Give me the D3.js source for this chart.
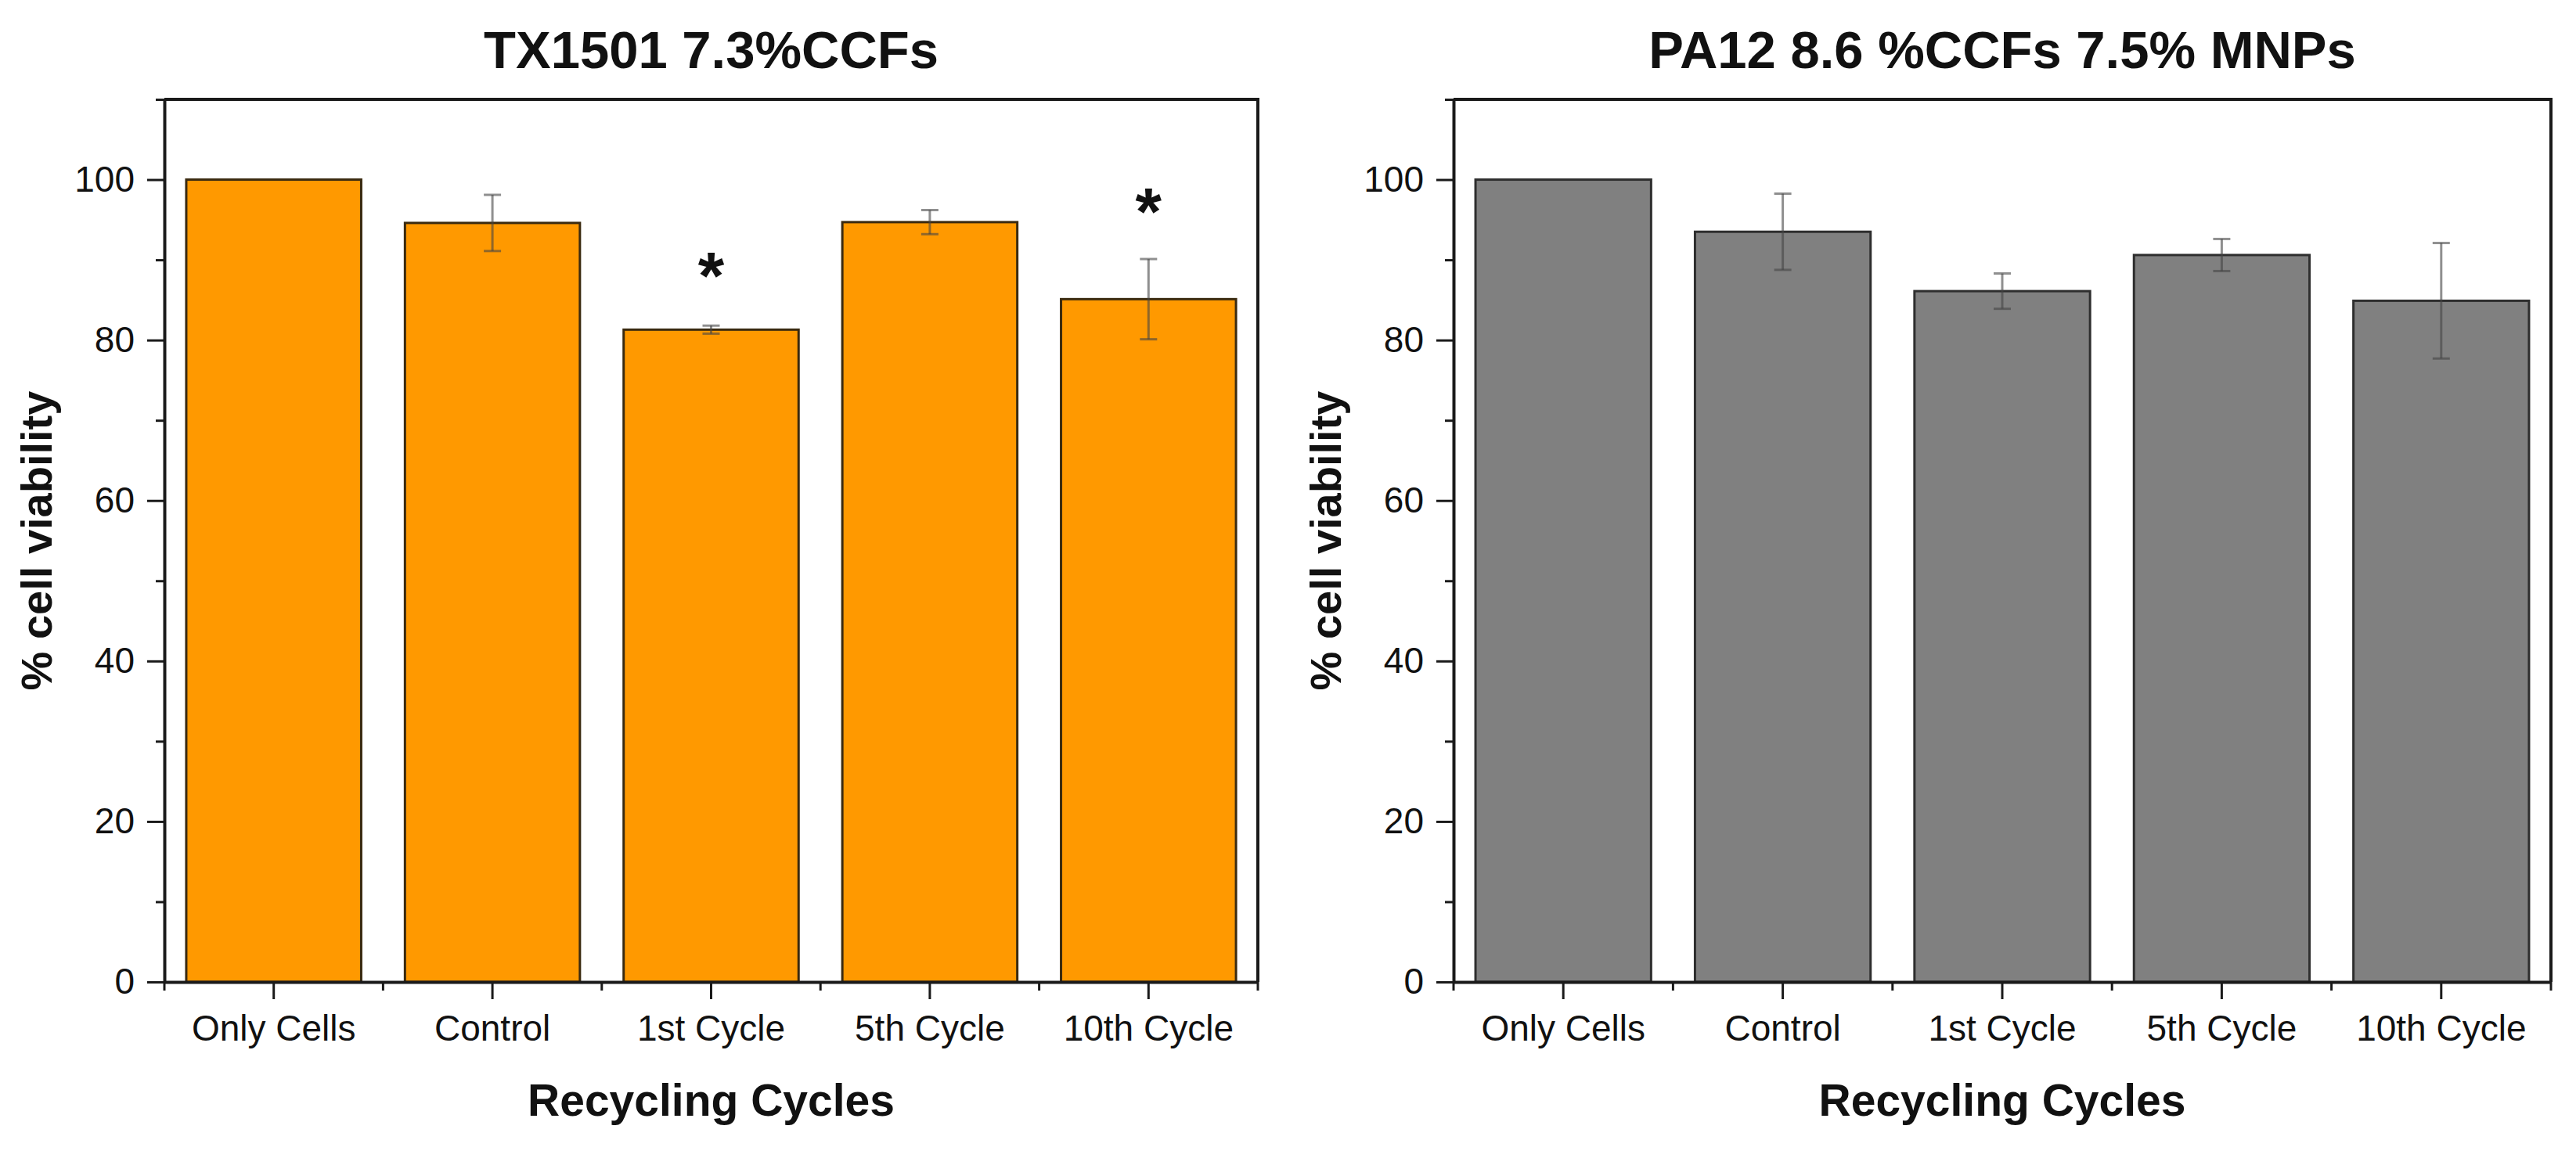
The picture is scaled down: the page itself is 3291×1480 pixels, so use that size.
<!DOCTYPE html>
<html>
<head>
<meta charset="utf-8">
<script src="https://cdn.jsdelivr.net/npm/d3@7"></script>
<style>
  body { margin: 0; background: #fff; }
  text { font-family: "Liberation Sans", Arial, sans-serif; fill: #111; }
</style>
</head>
<body>
<div id="chart"></div>
<script>
// data
const categories = ["Only Cells", "Control", "1st Cycle", "5th Cycle", "10th Cycle"];

const txMeans = [100, 94.6, 81.3, 94.7, 85.1];
const txErrors = [0, 3.5, 0.5, 1.5, 5.0];
const txStars = [null, null, 90, null, 98];

const paMeans = [100, 93.5, 86.1, 90.6, 84.9];
const paErrors = [0, 4.75, 2.2, 2.0, 7.2];
const paStars = [null, null, null, null, null];

const yTicks = [0, 20, 40, 60, 80, 100];
const yMinorTicks = [10, 30, 50, 70, 90, 110];

const width = 3291, height = 1480;
const plotTop = 127, plotBottom = 1255;

const svg = d3.select("#chart").append("svg")
    .attr("width", width)
    .attr("height", height);

svg.append("rect").attr("width", width).attr("height", height).attr("fill", "#fff");

function drawPanel(cfg) {
    const g = svg.append("g");

    const x = d3.scaleBand()
        .domain(categories)
        .range([cfg.left, cfg.right])
        .paddingInner(0.2)
        .paddingOuter(0.1);

    const y = d3.scaleLinear()
        .domain([0, 110])
        .range([plotBottom, plotTop]);

    const rows = categories.map((c, i) => ({
        cat: c, mean: cfg.means[i], err: cfg.errors[i], star: cfg.stars[i]
    }));

    // bars
    g.selectAll(".bar")
        .data(rows)
        .enter().append("rect")
        .attr("class", "bar")
        .attr("x", d => x(d.cat))
        .attr("y", d => y(d.mean))
        .attr("width", x.bandwidth())
        .attr("height", d => y(0) - y(d.mean))
        .attr("fill", cfg.color)
        .attr("stroke", cfg.edge)
        .attr("stroke-width", 3);

    // error bars
    const cx = d => x(d.cat) + x.bandwidth() / 2;
    const eb = g.selectAll(".err")
        .data(rows.filter(d => d.err > 0))
        .enter().append("g")
        .attr("class", "err")
        .attr("stroke", "#444")
        .attr("stroke-opacity", 0.6)
        .attr("stroke-width", 3);

    eb.append("line")
        .attr("x1", cx).attr("x2", cx)
        .attr("y1", d => y(d.mean - d.err))
        .attr("y2", d => y(d.mean + d.err));
    eb.append("line")
        .attr("x1", d => cx(d) - 11).attr("x2", d => cx(d) + 11)
        .attr("y1", d => y(d.mean + d.err))
        .attr("y2", d => y(d.mean + d.err));
    eb.append("line")
        .attr("x1", d => cx(d) - 11).attr("x2", d => cx(d) + 11)
        .attr("y1", d => y(d.mean - d.err))
        .attr("y2", d => y(d.mean - d.err));

    // significance marks
    g.selectAll(".star")
        .data(rows.filter(d => d.star != null))
        .enter().append("text")
        .attr("class", "star")
        .attr("x", cx)
        .attr("y", d => y(d.star) + 50)
        .attr("text-anchor", "middle")
        .attr("font-size", 86)
        .attr("font-weight", "bold")
        .text("*");

    // frame (top & right)
    g.append("path")
        .attr("d", `M${cfg.left},${plotTop}H${cfg.right}V${plotBottom}`)
        .attr("fill", "none")
        .attr("stroke", "#1a1a1a")
        .attr("stroke-width", 4);

    // y axis
    const yAxis = g.append("g")
        .attr("transform", `translate(${cfg.left},0)`)
        .call(d3.axisLeft(y).tickValues(yTicks).tickSize(22).tickPadding(16).tickSizeOuter(0));
    const yMinor = g.append("g")
        .attr("transform", `translate(${cfg.left},0)`)
        .call(d3.axisLeft(y).tickValues(yMinorTicks).tickSize(11).tickFormat(""));
    yMinor.select(".domain").remove();

    // x axis
    const xAxis = g.append("g")
        .attr("transform", `translate(0,${plotBottom})`)
        .call(d3.axisBottom(x).tickSize(22).tickPadding(20).tickSizeOuter(0));
    const minorX = d3.range(categories.length + 1).map(i => cfg.left + i * x.step());
    g.append("g")
        .selectAll("line")
        .data(minorX)
        .enter().append("line")
        .attr("x1", d => d).attr("x2", d => d)
        .attr("y1", plotBottom).attr("y2", plotBottom + 11)
        .attr("stroke", "#1a1a1a").attr("stroke-width", 3);

    [yAxis, xAxis, yMinor].forEach(a => {
        a.selectAll(".domain").attr("stroke", "#1a1a1a").attr("stroke-width", 4);
        a.selectAll(".tick line").attr("stroke", "#1a1a1a").attr("stroke-width", 3);
        a.selectAll(".tick text")
            .attr("font-size", 46)
            .attr("font-family", "Liberation Sans, Arial, sans-serif")
            .attr("fill", "#1a1a1a");
    });

    // titles
    const mid = (cfg.left + cfg.right) / 2;
    g.append("text")
        .attr("x", mid)
        .attr("y", 87)
        .attr("text-anchor", "middle")
        .attr("font-size", 67)
        .attr("font-weight", "bold")
        .text(cfg.title);

    g.append("text")
        .attr("x", mid)
        .attr("y", 1426)
        .attr("text-anchor", "middle")
        .attr("font-size", 57)
        .attr("font-weight", "bold")
        .text("Recycling Cycles");

    g.append("text")
        .attr("transform", `translate(${cfg.left - 144},${(plotTop + plotBottom) / 2}) rotate(-90)`)
        .attr("text-anchor", "middle")
        .attr("font-size", 56)
        .attr("font-weight", "bold")
        .text("% cell viability");
}

drawPanel({
    left: 210, right: 1607,
    means: txMeans, errors: txErrors, stars: txStars,
    color: "#FF9900", edge: "#3a2a10",
    title: "TX1501 7.3%CCFs"
});

drawPanel({
    left: 1857, right: 3259,
    means: paMeans, errors: paErrors, stars: paStars,
    color: "#808080", edge: "#2e2e2e",
    title: "PA12 8.6 %CCFs 7.5% MNPs"
});
</script>
</body>
</html>
